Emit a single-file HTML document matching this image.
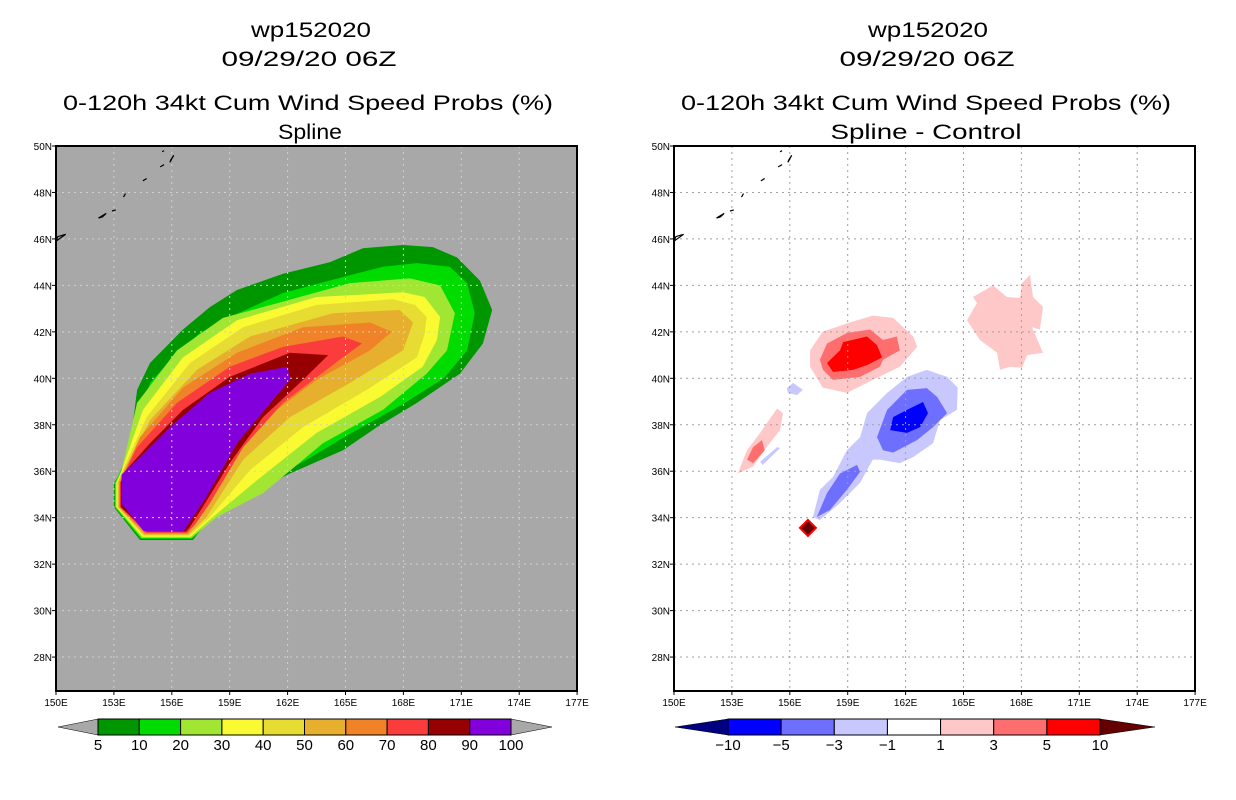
<!DOCTYPE html>
<html><head><meta charset="utf-8">
<style>
html,body{margin:0;padding:0;background:#fff;}
svg{display:block;font-family:"Liberation Sans",sans-serif;}
.t{font-size:21px;fill:#000;text-anchor:middle;}
.tk{font-size:10px;fill:#000;}
.cl{font-size:15px;fill:#000;text-anchor:middle;}
</style></head>
<body>
<svg id="root" width="1236" height="800" viewBox="0 0 1236 800" xmlns="http://www.w3.org/2000/svg">
<g>
<text class="t" x="311" y="37" textLength="120" lengthAdjust="spacingAndGlyphs">wp152020</text>
<text class="t" x="309" y="66" textLength="175" lengthAdjust="spacingAndGlyphs">09/29/20 06Z</text>
<text class="t" x="308" y="110" textLength="490" lengthAdjust="spacingAndGlyphs">0-120h 34kt Cum Wind Speed Probs (%)</text>
<text class="t" x="310" y="139" textLength="64" lengthAdjust="spacingAndGlyphs">Spline</text>
</g>
<g>
<text class="t" x="928" y="37" textLength="120" lengthAdjust="spacingAndGlyphs">wp152020</text>
<text class="t" x="927" y="66" textLength="175" lengthAdjust="spacingAndGlyphs">09/29/20 06Z</text>
<text class="t" x="926" y="110" textLength="490" lengthAdjust="spacingAndGlyphs">0-120h 34kt Cum Wind Speed Probs (%)</text>
<text class="t" x="926" y="139" textLength="191" lengthAdjust="spacingAndGlyphs">Spline - Control</text>
</g>
<g id="left"></g>
<g id="right"></g>
<g id="cbl"></g>
<g id="cbr"></g>
</svg>
<script>
const NS="http://www.w3.org/2000/svg";
const lonTicks=[150,153,156,159,162,165,168,171,174,177];
const latTicks=[28,30,32,34,36,38,40,42,44,46,48,50];
const probLevels=["5","10","20","30","40","50","60","70","80","90","100"];
const probColors=["#009600","#00dc00","#a0e632","#fafa32","#e6dc32","#e6af2d","#f08228","#fa3c3c","#960000","#8200dc"];
const diffLevels=["-10","-5","-3","-1","1","3","5","10"];
const diffColors=["#0000ff","#6e6eff","#c8c8ff","#ffffff","#ffc8c8","#ff6e6e","#ff0000"];
const tipLon=[157.1,154.35,153.0,153.0];
const tipLat=[33.04,33.04,34.46,35.5];
const band5=[[153.68,36.35],[153.94,37.77],[154.2,39.5],[154.87,40.66],[156.58,42.1],[157.98,43.07],[159.38,43.8],[161.76,44.5],[164.2,45.0],[165.9,45.6],[167.98,45.74],[169.53,45.65],[170.78,45.2],[171.97,44.2],[172.6,42.94],[172.12,41.5],[170.93,40.2],[168.7,38.94],[166.63,37.9],[164.87,36.9],[162.12,35.9],[160.05,35.06],[157.98,34.03]];
const band10=[[153.5,36.3],[154.35,38.33],[154.87,39.8],[156.06,40.9],[157.46,41.95],[159.0,42.64],[161.76,43.67],[164.87,44.36],[166.94,44.8],[168.7,44.96],[170.4,44.8],[171.3,44.1],[171.7,42.8],[171.3,41.2],[170.1,40.0],[168.0,38.9],[165.2,37.6],[163.0,36.5],[160.4,35.3],[158.65,34.4]];
const band20=[[153.4,36.05],[154.2,38.94],[156.27,41.2],[158.65,42.6],[161.76,43.3],[165.23,44.1],[168.34,44.3],[169.9,44.0],[170.67,42.8],[170.26,41.2],[169.2,40.2],[166.94,38.64],[163.83,37.2],[160.73,35.06],[158.34,34.03]];
const band30=[[153.3,35.8],[154.5,38.64],[156.58,40.9],[159.38,42.5],[163.5,43.5],[167.98,43.7],[169.1,43.5],[169.9,42.64],[169.74,41.65],[169.0,40.5],[166.8,39.2],[163.5,37.65],[160.4,35.6],[158.13,34.03]];
const band40=[[153.3,35.75],[154.7,38.33],[156.94,40.66],[159.7,42.2],[163.5,43.16],[167.46,43.4],[168.6,43.16],[169.2,42.64],[169.1,41.9],[168.7,40.9],[166.1,39.5],[162.8,37.9],[160.05,36.05],[157.98,34.03]];
const band50=[[153.3,35.7],[154.87,38.2],[157.3,40.36],[160.05,41.8],[164.35,42.8],[167.8,42.94],[168.5,42.4],[167.98,41.2],[165.23,39.8],[162.12,38.33],[159.7,36.5],[157.8,34.03]];
const band60=[[153.37,35.67],[154.35,37.47],[156.58,39.6],[159.38,41.1],[162.8,42.2],[166.27,42.4],[167.4,42.0],[166.27,41.2],[163.5,39.93],[160.93,38.33],[158.65,36.05],[157.46,34.03]];
const band70=[[153.37,35.6],[154.2,37.04],[156.27,38.94],[159.0,40.5],[161.76,41.35],[164.87,41.8],[165.85,41.5],[164.7,40.8],[161.76,38.94],[159.7,37.04],[157.98,34.63],[157.2,33.7]];
const band80=[[153.47,35.9],[154.87,37.2],[156.58,38.64],[159.0,40.06],[162.12,41.1],[164.1,41.0],[162.8,39.93],[160.73,38.33],[159.0,36.35],[157.6,34.46],[156.94,33.6]];
const band90=[[153.4,35.85],[154.35,36.6],[155.9,37.9],[157.98,39.37],[160.05,40.2],[162.0,40.5],[162.12,39.93],[160.93,38.76],[159.38,37.2],[157.8,34.9],[156.6,33.42],[154.55,33.42],[153.4,34.6],[153.4,35.5]];
const diffPos1=[[157.05,41.2],[157.7,42.0],[159.1,42.4],[160.3,42.7],[161.35,42.6],[162.4,41.8],[162.6,41.35],[161.7,40.5],[160.3,39.93],[158.96,39.37],[157.7,39.6],[157.05,40.5]];
const diffPos3=[[157.56,40.8],[157.93,41.5],[158.96,41.95],[160.16,42.1],[160.83,41.65],[161.55,41.8],[161.7,41.2],[160.83,40.8],[160.67,40.5],[159.64,40.06],[158.24,39.93],[157.72,40.36]];
const diffPos5=[[157.93,40.66],[158.6,41.2],[158.76,41.56],[160.0,41.8],[160.52,41.43],[160.78,40.9],[160.0,40.57],[159.27,40.36],[158.24,40.27]];
const diffPosNE=[[165.18,42.5],[165.7,43.24],[165.49,43.5],[166.53,44.0],[167.25,43.5],[167.93,43.46],[168.03,44.1],[168.45,44.45],[168.6,43.5],[169.12,43.07],[168.96,42.1],[168.55,42.2],[169.12,41.1],[168.29,41.0],[168.03,40.45],[167.41,40.5],[166.89,40.36],[166.74,41.1],[165.85,41.65]];
const diffPosW1=[[153.3,35.9],[153.78,36.9],[154.46,37.65],[155.34,38.7],[155.65,38.5],[155.5,37.77],[154.8,37.04],[154.1,36.2]];
const diffPosW3=[[153.78,36.5],[154.1,37.04],[154.56,37.34],[154.7,36.9],[154.1,36.35]];
const diffNeg1=[[159.64,37.47],[160.0,38.5],[161.04,39.37],[162.07,40.06],[163.1,40.36],[164.15,40.06],[164.7,39.6],[164.66,38.64],[163.78,38.2],[163.42,37.2],[162.38,36.6],[161.7,36.35],[160.67,36.5],[160.3,36.5],[159.64,35.5],[158.6,34.63],[157.56,33.9],[157.2,34.03],[157.56,35.2],[158.24,35.75],[158.96,36.9]];
const diffNeg3=[[160.52,37.47],[161.04,38.64],[162.07,39.5],[163.1,39.58],[163.63,39.2],[164.15,38.5],[163.42,37.9],[162.59,37.34],[161.35,36.8],[160.83,36.9]];
const diffNeg3b=[[157.4,34.03],[157.93,35.06],[158.6,35.9],[159.48,36.27],[159.64,35.97],[158.96,35.2],[158.08,34.33]];
const diffNeg5=[[161.2,37.77],[161.35,38.33],[162.07,38.64],[162.9,38.98],[163.16,38.5],[162.75,37.9],[162.07,37.65]];
const diffNegSmall=[[155.85,39.58],[156.17,39.8],[156.68,39.5],[156.37,39.28],[155.9,39.37]];
const diffNegW=[[154.46,36.4],[155.34,37.04],[155.5,37.0],[154.6,36.27]];
const peakLon=[156.94], peakLat=[33.56];
const islands=[[[152.2,46.9],[152.6,47.1],[152.4,46.95]],[[152.9,47.2],[153.1,47.25]],[[153.5,47.8],[153.6,47.95]],[[154.5,48.5],[154.7,48.6]],[[155.4,49.1],[155.6,49.2]],[[155.9,49.3],[156.1,49.6],[155.95,49.4]],[[155.5,49.75],[155.6,49.8]],[[150,45.9],[150.5,46.2],[150.1,46.1]]];

const Y0=146,PX_LON=19.3,PX_LAT=23.23,W=521,H=545;
function mk(tag,attrs,parent){const e=document.createElementNS(NS,tag);for(const k in attrs)e.setAttribute(k,attrs[k]);if(parent)parent.appendChild(e);return e;}
function xs(x0,lon){return x0+(lon-150)*PX_LON;}
function ys(lat){return Y0+(50-lat)*PX_LAT;}
function pts(x0,arr){return arr.map(p=>xs(x0,p[0]).toFixed(1)+","+ys(p[1]).toFixed(1)).join(" ");}
function tipFor(i){const d=i*0.045;return [[tipLon[0]-d,tipLat[0]+d],[tipLon[1]+d,tipLat[1]+d],[tipLon[2]+d,tipLat[2]],[tipLon[3]+d,tipLat[3]]];}

function drawMap(g,x0,bg,id){
  const cp=mk("clipPath",{id:id},g);mk("rect",{x:x0,y:Y0,width:W,height:H},cp);
  const bgr=mk("rect",{x:x0,y:Y0,width:W,height:H,fill:bg},g);
  
  
  return mk("g",{"clip-path":"url(#"+id+")"},g);
}
function drawFrame(g,x0,gridCol,inner){
  const grid=mk("g",{},inner);
  
  
  lonTicks.slice(1,-1).forEach(l=>mk("line",{x1:xs(x0,l),x2:xs(x0,l),y1:Y0,y2:Y0+H,stroke:gridCol,"stroke-width":1,"stroke-dasharray":"2,4"},grid));
  latTicks.slice(0,-1).forEach(l=>mk("line",{x1:x0,x2:x0+W,y1:ys(l),y2:ys(l),stroke:gridCol,"stroke-width":1,"stroke-dasharray":"2,4"},grid));
  const isl=mk("g",{},inner);
  
  
  islands.forEach(s=>mk("polygon",{points:pts(x0,s),fill:"none",stroke:"#000","stroke-width":1.2},isl));
  const fr=mk("rect",{x:x0,y:Y0,width:W,height:H,fill:"none",stroke:"#000","stroke-width":2},g);
  
  
  const ax=mk("g",{},g);
  
  
  lonTicks.forEach(l=>{const t=mk("text",{x:xs(x0,l),y:Y0+H+15,class:"tk","text-anchor":"middle"},ax);t.textContent=l+"E";
    mk("line",{x1:xs(x0,l),x2:xs(x0,l),y1:Y0+H,y2:Y0+H+4,stroke:"#000"},ax);});
  latTicks.forEach(l=>{const t=mk("text",{x:x0-4,y:ys(l)+4,class:"tk","text-anchor":"end"},ax);t.textContent=l+"N";
    mk("line",{x1:x0-4,x2:x0,y1:ys(l),y2:ys(l),stroke:"#000"},ax);});
}
const L=document.getElementById("left");
const li=drawMap(L,56,"#a8a8a8","cl1");
const bands=[band5,band10,band20,band30,band40,band50,band60,band70,band80];
bands.forEach((b,i)=>{const p=mk("polygon",{points:pts(56,b.concat(tipFor(i))),fill:probColors[i]},li);
  
  });
const pp=mk("polygon",{points:pts(56,band90),fill:probColors[9]},li);


drawFrame(L,56,"#d0d0d0",li);
const R=document.getElementById("right");
const ri=drawMap(R,674,"#ffffff","cl2");
const dshapes=[[diffPos1,4],[diffPos3,5],[diffPos5,6],[diffPosNE,4],[diffPosW1,4],[diffPosW3,5],[diffNeg1,2],[diffNeg3,1],[diffNeg3b,1],[diffNeg5,0],[diffNegSmall,2],[diffNegW,2]];
dshapes.forEach(s=>{const p=mk("polygon",{points:pts(674,s[0]),fill:diffColors[s[1]]},ri);
  
  });
peakLon.forEach((lo,i)=>{const cx=xs(674,lo),cy=ys(peakLat[i]);
  const d=mk("polygon",{points:`${cx},${cy-8} ${cx+8},${cy} ${cx},${cy+8} ${cx-8},${cy}`,fill:"#640000",stroke:"#ff0000","stroke-width":2},ri);
  
  });
drawFrame(R,674,"#a0a0a0",ri);
function colorbar(g,tipL,x1,x2,tipR,cols,lowCol,highCol,labels){
  const y1=719,y2=735,ym=727,n=cols.length,w=(x2-x1)/n;
  const a=mk("polygon",{points:`${tipL},${ym} ${x1},${y1} ${x1},${y2}`,fill:lowCol,stroke:"#000","stroke-width":0.5},g);
  
  
  const b=mk("polygon",{points:`${tipR},${ym} ${x2},${y1} ${x2},${y2}`,fill:highCol,stroke:"#000","stroke-width":0.5},g);
  
  
  cols.forEach((c,i)=>{const r=mk("rect",{x:x1+i*w,y:y1,width:w,height:y2-y1,fill:c,stroke:"#000","stroke-width":1},g);
    
    });
  labels.forEach((l,i)=>{const t=mk("text",{x:x1+i*w,y:750,class:"cl"},g);t.textContent=l.replace("-","\u2212");
    
    });
}
colorbar(document.getElementById("cbl"),58,98,511,552,probColors,"#a8a8a8","#a8a8a8",probLevels);
colorbar(document.getElementById("cbr"),675,728,1100,1155,diffColors,"#000080","#640000",diffLevels);
</script>
</body></html>
